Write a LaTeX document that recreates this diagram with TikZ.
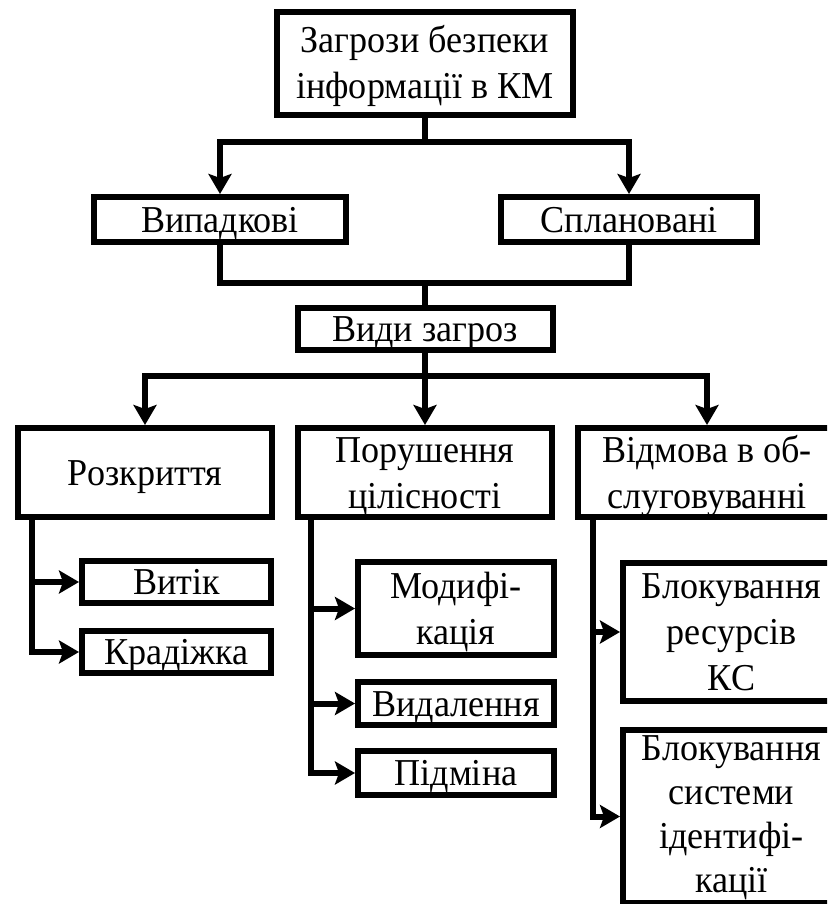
\documentclass[tikz,border=0pt]{standalone}
\usepackage{fontspec}
\setmainfont[FakeStretch=0.95]{Liberation Serif}
\usetikzlibrary{arrows.meta}
\newcommand\txtl[3]{\raisebox{0pt}[#1][#2]{\vbox{\halign{\hfil##\hfil\cr#3\crcr}}}}
\begin{document}
\begin{tikzpicture}[x=1pt,y=-1pt,
  box/.style={draw, line width=6pt, inner sep=0pt,
    font=\fontsize{38}{46}\selectfont},
  conn/.style={line width=6pt},
  arr/.style={conn, -{Stealth[length=20pt,width=23pt,inset=4pt]}}]
\useasboundingbox (0,0) rectangle (827,904);
\clip (0,0) rectangle (827,904);
\fill[white] (0,0) rectangle (827,904);

\node[box, minimum width=296pt, minimum height=103pt] (top) at (425,63.5) {\txtl{71pt}{0pt}{Загрози безпеки\cr інформації в КМ}};
\node[box, minimum width=252pt, minimum height=45pt] (vyp) at (220,219.5) {\txtl{25pt}{0pt}{Випадкові}};
\node[box, minimum width=256pt, minimum height=45pt] (spl) at (629,219.5) {\txtl{25pt}{0pt}{Сплановані}};
\node[box, minimum width=255pt, minimum height=42pt] (vydy) at (425,329) {\txtl{25pt}{0pt}{Види загроз}};
\node[box, minimum width=254pt, minimum height=89pt] (rozk) at (145,472.5) {\txtl{25pt}{0pt}{Розкриття}};
\node[box, minimum width=254pt, minimum height=89pt] (por) at (425,472.5) {\txtl{71pt}{0pt}{Порушення\cr цілісності}};
\node[box, minimum width=258pt, minimum height=89pt] (vidm) at (707,472.5) {\txtl{71pt}{0pt}{Відмова в об-\cr слуговуванні}};
\node[box, minimum width=189pt, minimum height=42pt] (vyt) at (176.5,582) {\txtl{25pt}{0pt}{Витік}};
\node[box, minimum width=189pt, minimum height=42pt] (krad) at (176.5,652) {\txtl{25pt}{0pt}{Крадіжка}};
\node[box, minimum width=196pt, minimum height=93pt] (mod) at (456,608.5) {\txtl{71pt}{0pt}{Модифі-\cr кація}};
\node[box, minimum width=196pt, minimum height=43pt] (vyd) at (456,703.5) {\txtl{25pt}{0pt}{Видалення}};
\node[box, minimum width=196pt, minimum height=44pt] (pidm) at (456,773) {\txtl{25pt}{0pt}{Підміна}};
\node[box, minimum width=217pt, minimum height=138pt] (blr) at (731.5,632) {\txtl{117pt}{0pt}{Блокування\cr ресурсів\cr КС}};
\node[box, minimum width=217pt, minimum height=173pt, font=\fontsize{38}{44}\selectfont] (bls) at (731.5,816.5) {\txtl{157pt}{6pt}{Блокування\cr системи\cr ідентифі-\cr кації}};

\coordinate (h1) at (0,142);
\coordinate (h2) at (0,283);
\coordinate (h3) at (0,376);
\coordinate (r0) at (32,0);
\coordinate (p0) at (311,0);
\coordinate (v0) at (593,0);

\draw[arr] (top.south) |- (vyp.north |- h1) -- (vyp.north);
\draw[arr] (top.south) |- (spl.north |- h1) -- (spl.north);
\draw[conn] (vyp.south) |- (spl.south |- h2) -- (spl.south);
\draw[conn] (vydy.north |- h2) -- (vydy.north);

\draw[arr] (vydy.south) |- (rozk.north |- h3) -- (rozk.north);
\draw[arr] (vydy.south) |- (vidm.north |- h3) -- (vidm.north);
\draw[arr] (vydy.south) -- (por.north);

\draw[arr] (rozk.south -| r0) |- (krad.west);
\draw[arr] (r0 |- vyt.west) -- (vyt.west);

\draw[arr] (por.south -| p0) |- (pidm.west);
\draw[arr] (p0 |- mod.west) -- (mod.west);
\draw[arr] (p0 |- vyd.west) -- (vyd.west);

\draw[arr] (vidm.south -| v0) |- (bls.west);
\draw[arr] (v0 |- blr.west) -- (blr.west);
\end{tikzpicture}
\end{document}
